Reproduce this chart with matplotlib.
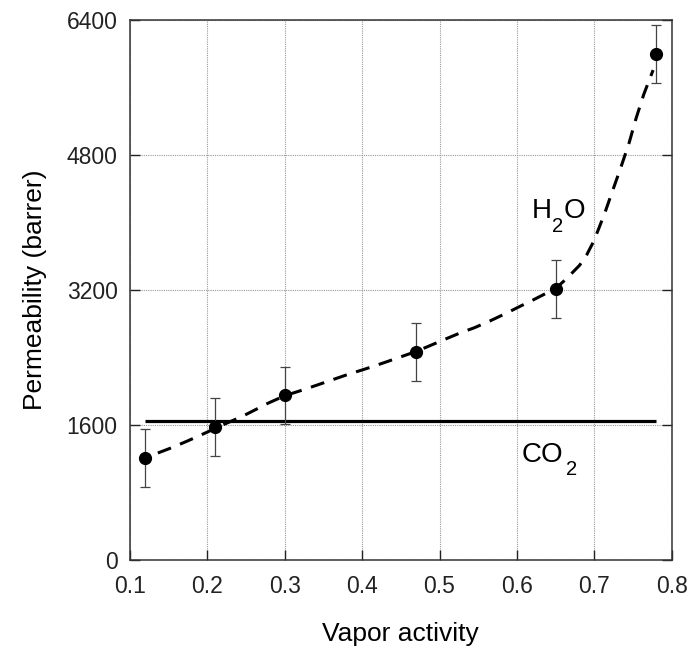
import matplotlib
matplotlib.use("Agg")
import matplotlib.pyplot as plt
from matplotlib.transforms import offset_copy

plt.rcParams["font.family"] = ["Liberation Sans", "DejaVu Sans"]

# measured H2O permeability with error bars
activity = [0.12, 0.21, 0.30, 0.47, 0.65, 0.78]
perm_h2o = [1204, 1571, 1950, 2467, 3209, 5988]
perm_err = [345, 345, 340, 345, 345, 345]

# dashed trend curve
curve_x = [0.136, 0.154, 0.175, 0.200, 0.216, 0.230, 0.246, 0.260, 0.278, 0.300,
           0.322, 0.342, 0.384, 0.400, 0.414, 0.432, 0.446, 0.470, 0.492, 0.510,
           0.527, 0.545, 0.565, 0.587, 0.601, 0.620, 0.650, 0.664, 0.681, 0.690,
           0.699, 0.706, 0.714, 0.722, 0.734, 0.745, 0.754, 0.764, 0.773, 0.776]
curve_y = [1267, 1330, 1412, 1515, 1585, 1640, 1705, 1770, 1855, 1945,
           2010, 2072, 2205, 2250, 2292, 2348, 2393, 2470, 2555, 2625,
           2690, 2750, 2830, 2925, 2990, 3075, 3215, 3330, 3490, 3610,
           3770, 3930, 4120, 4330, 4640, 4940, 5230, 5515, 5730, 5801]

# CO2 permeability (constant)
co2_x = [0.12, 0.78]
co2_y = [1640, 1640]

x_ticks = [0.1, 0.2, 0.3, 0.4, 0.5, 0.6, 0.7, 0.8]
y_ticks = [0, 1600, 3200, 4800, 6400]

fig = plt.figure(figsize=(6.87, 6.48), dpi=100)
ax = fig.add_axes([0.1892, 0.1358, 0.7885, 0.8341])

ax.plot(co2_x, co2_y, color="black", lw=2.3, solid_capstyle="butt", zorder=3)
ax.plot(curve_x, curve_y, color="black", lw=2.2, dashes=(4.6, 3.2), zorder=3)
ax.errorbar(activity, perm_h2o, yerr=perm_err, fmt="o", color="black",
            ecolor="#444444", elinewidth=0.9, capsize=3.5, capthick=0.9,
            markersize=8.5, zorder=4)


def formula(x, y, head, sub, tail, sub_dx, tail_dx):
    # chemical formula with a low subscript, placed piece by piece
    ax.text(x, y, head, fontsize=20, ha="left", va="baseline")
    t_sub = offset_copy(ax.transData, fig=fig, x=sub_dx, y=-9.8, units="points")
    ax.text(x, y, sub, fontsize=14.5, ha="left", va="baseline", transform=t_sub)
    if tail:
        t_tail = offset_copy(ax.transData, fig=fig, x=tail_dx, y=0, units="points")
        ax.text(x, y, tail, fontsize=20, ha="left", va="baseline", transform=t_tail)


formula(0.619, 4050, "H", "2", "O", 14.8, 23.3)
formula(0.606, 1164, "CO", "2", "", 32.0, 0)

ax.set_xlim(0.1, 0.8)
ax.set_ylim(0, 6400)
ax.set_xticks(x_ticks)
ax.set_yticks(y_ticks)
ax.set_xticklabels([f"{v:.1f}" for v in x_ticks])
ax.set_yticklabels([str(v) for v in y_ticks])
ax.grid(True, color="#999999", linestyle=(0, (1, 1)), lw=0.8)
ax.set_axisbelow(True)
ax.tick_params(direction="in", length=7, width=1, top=False, right=True,
               labelsize=16.5, pad=9, colors="#222222")
ax.tick_params(axis="x", pad=11)
for s in ax.spines.values():
    s.set_color("#333333")
    s.set_linewidth(1.1)

ax.set_xlabel("Vapor activity", fontsize=19, labelpad=17)
ax.set_ylabel("Permeability (barrer)", fontsize=19, labelpad=14)

fig.savefig("out.png", dpi=100)
